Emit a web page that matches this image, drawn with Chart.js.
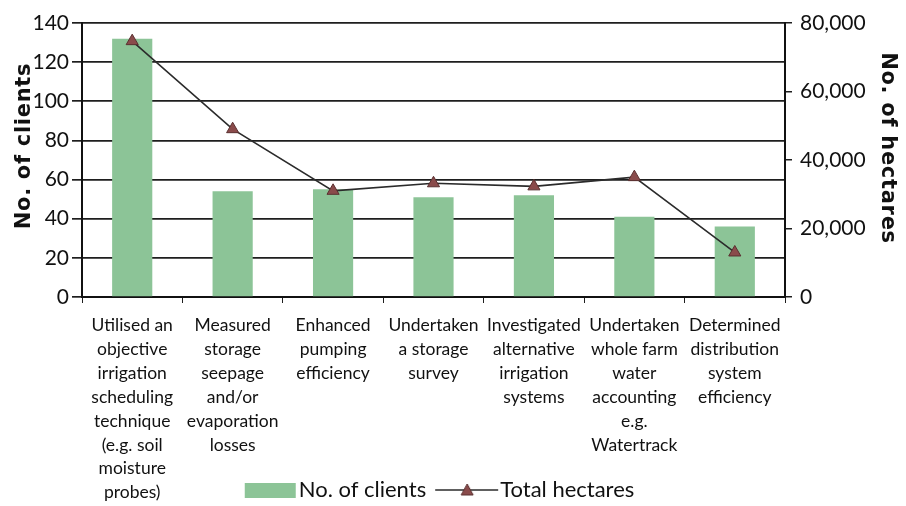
<!DOCTYPE html>
<html>
<head>
<meta charset="utf-8">
<script src="https://cdn.jsdelivr.net/npm/chart.js@4.4.0/dist/chart.umd.min.js"></script>
<style>
  html, body { margin: 0; padding: 0; background: #ffffff; }
  #wrap { width: 906px; height: 506px; position: relative; }
</style>
</head>
<body>
<div id="wrap"><canvas id="c" width="906" height="506"></canvas></div>
<script>
// ---- data ----
const categories = [
  ["Utilised an", "objective", "irrigation", "scheduling", "technique", "(e.g. soil", "moisture", "probes)"],
  ["Measured", "storage", "seepage", "and/or", "evaporation", "losses"],
  ["Enhanced", "pumping", "efficiency"],
  ["Undertaken", "a storage", "survey"],
  ["Investigated", "alternative", "irrigation", "systems"],
  ["Undertaken", "whole farm", "water", "accounting", "e.g.", "Watertrack"],
  ["Determined", "distribution", "system", "efficiency"]
];
const clients = [132, 54, 55, 51, 52, 41, 36];
const hectares = [74700, 49000, 31000, 33200, 32300, 35000, 13000];
const clientTicks = [0, 20, 40, 60, 80, 100, 120, 140];
const hectareTicks = [0, 20000, 40000, 60000, 80000];
const seriesNames = ["No. of clients", "Total hectares"];

// ---- styles ----
const GREEN = "#8cc497";
const MARKER = "#8a4b4b";
const LINE = "#2b2b2b";
const GRID = "#1e1e1e";
const BOXW = 60;

function makeBarSymbol() {
  const cv = document.createElement("canvas");
  cv.width = 88; cv.height = 15;
  const g = cv.getContext("2d");
  g.fillStyle = GREEN;
  g.fillRect(31, 0, 51, 15);
  return cv;
}
function makeLineSymbol() {
  const cv = document.createElement("canvas");
  cv.width = 88; cv.height = 16;
  const g = cv.getContext("2d");
  g.strokeStyle = LINE; g.lineWidth = 1.6;
  g.beginPath(); g.moveTo(20, 8); g.lineTo(83, 8); g.stroke();
  g.fillStyle = MARKER; g.strokeStyle = "#5a3030"; g.lineWidth = 1;
  g.beginPath(); g.moveTo(52, 2); g.lineTo(58, 13); g.lineTo(46, 13); g.closePath();
  g.fill(); g.stroke();
  return cv;
}

// shift the vertical axis titles upward a little and open their letter spacing
function wrapTitle(scale, shift) {
  if (scale._titleWrapped) return;
  const orig = scale.drawTitle;
  scale.drawTitle = function () {
    const t = this.top, b = this.bottom;
    this.top = t + shift; this.bottom = b + shift;
    const c = this.ctx;
    const ls = c.letterSpacing;
    c.letterSpacing = "0.7px";
    orig.call(this);
    c.letterSpacing = ls || "0px";
    this.top = t; this.bottom = b;
  };
  scale._titleWrapped = true;
}

const placeBoxes = {
  id: "placeBoxes",
  afterLayout(chart) {
    // let the multi-line category labels run to the foot of the canvas
    chart.scales.x.bottom = chart.height;
    const L = chart.legend;
    if (L) {
      const h = L.bottom - L.top;
      L.top = 476; L.bottom = L.top + h;
      L.left -= 22; L.right -= 22;
    }
    wrapTitle(chart.scales.yL, -14);
    wrapTitle(chart.scales.yR, -12);
  }
};

const ctx = document.getElementById("c").getContext("2d");
new Chart(ctx, {
  type: "bar",
  data: {
    labels: categories,
    datasets: [
      {
        type: "line",
        label: seriesNames[1],
        data: hectares,
        yAxisID: "yR",
        borderColor: LINE,
        borderWidth: 1.6,
        pointStyle: "triangle",
        pointRadius: 7,
        pointBackgroundColor: MARKER,
        pointBorderColor: "#5a3030",
        pointBorderWidth: 1,
        tension: 0,
        order: 0
      },
      {
        type: "bar",
        label: seriesNames[0],
        data: clients,
        yAxisID: "yL",
        backgroundColor: GREEN,
        borderWidth: 0,
        barPercentage: 0.4,
        categoryPercentage: 1.0,
        order: 1
      }
    ]
  },
  plugins: [placeBoxes],
  options: {
    responsive: false,
    animation: false,
    devicePixelRatio: 1,
    layout: { padding: { top: 23, left: 0, right: 0, bottom: 0 } },
    plugins: {
      tooltip: { enabled: false },
      legend: {
        position: "bottom",
        labels: {
          usePointStyle: true,
          pointStyleWidth: BOXW,
          boxHeight: 16,
          padding: 3,
          color: "#111",
          font: { family: "Lato", size: 22 },
          generateLabels: function (chart) {
            return [
              { text: seriesNames[0], pointStyle: makeBarSymbol(), datasetIndex: 1, fontColor: "#111", lineWidth: 0, hidden: false },
              { text: seriesNames[1], pointStyle: makeLineSymbol(), datasetIndex: 0, fontColor: "#111", lineWidth: 0, hidden: false }
            ];
          }
        }
      }
    },
    scales: {
      x: {
        offset: true,
        grid: { offset: true, drawOnChartArea: false, tickLength: 6, color: GRID, lineWidth: 1 },
        border: { color: "#111", width: 2 },
        ticks: {
          maxRotation: 0, minRotation: 0, autoSkip: false, padding: 10,
          color: "#111",
          font: { family: "Lato", size: 17.5, lineHeight: 1.37 }
        },
        afterFit: function (s) { s.height = 174; }
      },
      yL: {
        position: "left",
        min: 0, max: 140,
        afterBuildTicks: function (s) { s.ticks = clientTicks.map(v => ({ value: v })); },
        grid: { color: GRID, lineWidth: 1.7, tickLength: 10 },
        border: { color: "#111", width: 2 },
        ticks: { color: "#111", padding: 3, font: { family: "Lato", size: 21 } },
        title: {
          display: true, text: "No. of clients", color: "#111",
          font: { family: "DejaVu Sans", size: 21, weight: "bold" },
          padding: { top: 12, bottom: 0 }
        },
        afterFit: function (s) { s.width = 82; }
      },
      yR: {
        position: "right",
        min: 0, max: 80000,
        afterBuildTicks: function (s) { s.ticks = hectareTicks.map(v => ({ value: v })); },
        grid: { drawOnChartArea: false, color: GRID, lineWidth: 1.5, tickLength: 7 },
        border: { color: "#111", width: 2 },
        ticks: {
          color: "#111", padding: 8, font: { family: "Lato", size: 21 },
          callback: function (v) { return Number(v).toLocaleString("en-US"); }
        },
        title: {
          display: true, text: "No. of hectares", color: "#111",
          font: { family: "DejaVu Sans", size: 21, weight: "bold" },
          padding: { top: 6, bottom: 0 }
        },
        afterFit: function (s) { s.width = 121; }
      }
    }
  }
});
</script>
</body>
</html>
